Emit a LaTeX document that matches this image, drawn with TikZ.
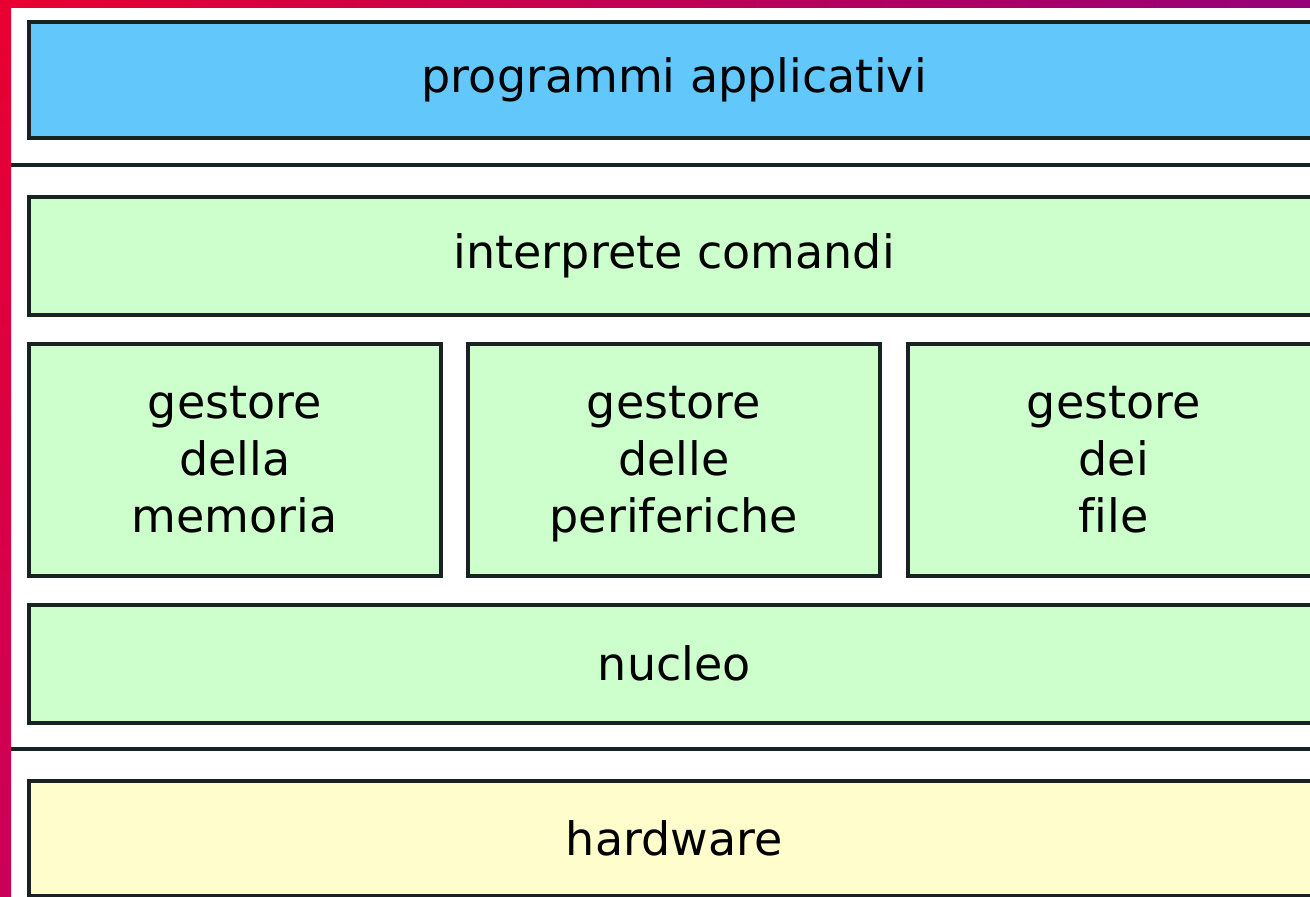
\documentclass[tikz,border=0pt]{standalone}
\usepackage{fontspec}
\setmainfont[Ligatures=NoCommon]{DejaVu Sans}
\usetikzlibrary{positioning}
\definecolor{appblue}{RGB}{98,200,252}
\definecolor{osgreen}{RGB}{204,255,204}
\definecolor{hwyellow}{RGB}{255,253,204}
\definecolor{edgegray}{RGB}{24,34,34}
\definecolor{framered}{RGB}{232,0,48}
\definecolor{framemagenta}{RGB}{204,0,88}
\definecolor{framepurple}{RGB}{150,0,120}

\begin{document}
\begin{tikzpicture}[x=1pt, y=-1pt,
    layer/.style={draw=edgegray, line width=3.5pt, anchor=north west, inner sep=0pt,
      align=center, font=\fontsize{46}{57}\selectfont},
    wide/.style={layer, minimum width=1291pt},
    module/.style={layer, minimum width=412pt, minimum height=232pt, fill=osgreen,
      text depth=0pt}]
    \useasboundingbox (0,0) rectangle (1310,897);
    \clip (0,0) rectangle (1310,897);
    \fill[white] (0,0) rectangle (1310,897);
    % coloured frame on the left and top
    \shade[left color=framered, right color=framepurple] (0,0) rectangle (1310,7);
    \shade[top color=framered, bottom color=framemagenta] (0,0) rectangle (11,897);

    \node[wide, fill=appblue, minimum height=116pt] (app) at (27,20) {programmi applicativi};
    \draw[edgegray, line width=3.5pt] (11,165) -- (1310,165);
    \node[wide, fill=osgreen, minimum height=118pt] (shell) at (27,195) {interprete comandi};

    \node[module] (mem) at (27,342) {gestore\\della\\memoria};
    \node[module] (dev) at (466,342) {gestore\\delle\\periferiche};
    \node[module] (fs) at (906,342) {gestore\\dei\\file};

    \node[wide, fill=osgreen, minimum height=118pt] (kernel) at (27,603) {nucleo};
    \draw[edgegray, line width=3.5pt] (11,749) -- (1310,749);
    \node[wide, fill=hwyellow, minimum height=115pt] (hw) at (27,779) {hardware};
\end{tikzpicture}
\end{document}
